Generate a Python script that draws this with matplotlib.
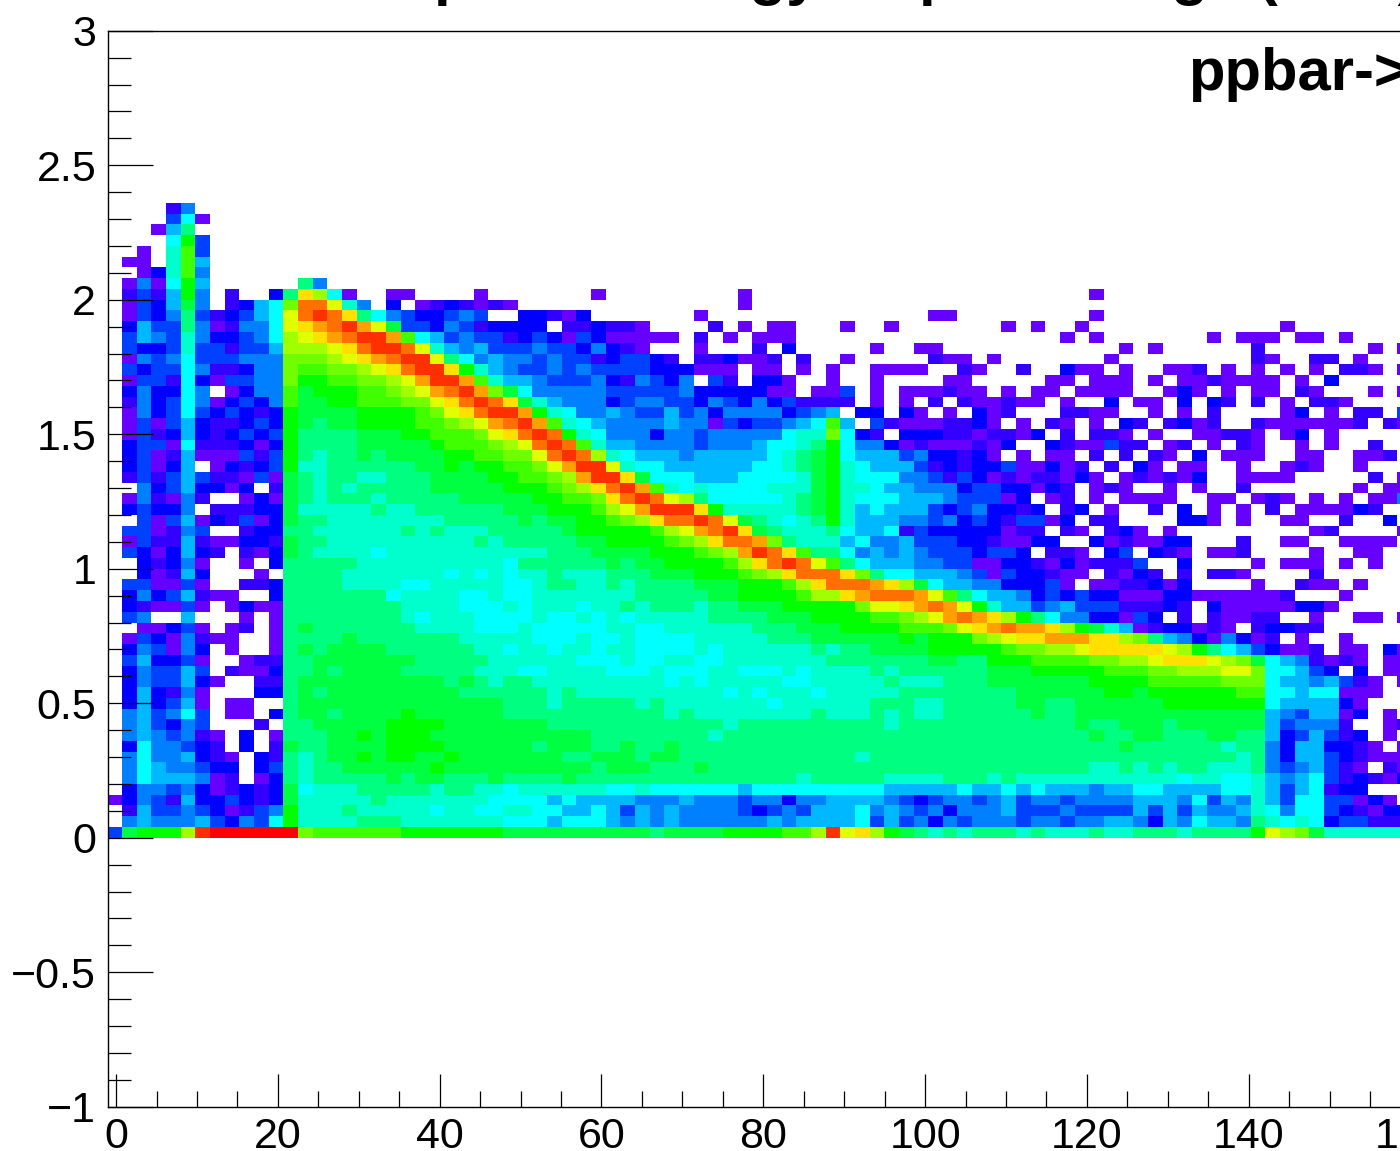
"""Recreate the ppbar 2D histogram (ROOT rainbow palette, cropped canvas)."""

import matplotlib

matplotlib.use("Agg")

import matplotlib.pyplot as plt
import numpy as np
from matplotlib.colors import ListedColormap
from matplotlib.ticker import FixedFormatter, FixedLocator

plt.rcParams["font.family"] = ["Liberation Sans", "DejaVu Sans"]

W, H = 1400, 1151

# bin levels, top row (y = 2.32) first, '.' = empty bin
# columns 0-29
CELLS_LEFT = [
    "....be",
    "....dga",
    "...afi",
    "....gkd",
    "..a.hld",
    ".aa.hlf",
    "..achle",
    ".aeagkf......ie",
    ".bdbfke.b..cipnga..aa....a",
    ".adcfje.bcfgmrrohe.c.abcbaba",
    ".adceidbcdfgorsrpigedccded..cc",
    ".cfddieabeegopqrsqojddcedbcccc",
    ".dfedheccdegnopqrssqlgfdeddbcd",
    ".dccdhddbddfnnnoprssrohfefddde",
    ".aedegdddeeemmmnopqrssoigefeed",
    ".dcddgebbceemllmmnoprsspkhfedd",
    ".addbgcaddeemkkllmmnoqssqlhffe",
    ".ceccge.aceeljkkkllmnoqrsqmjge",
    ".becdgeacdceljjkklllmmoprsrpjh",
    ".aecdgdcdcbckjjjjkkkklmoprssqk",
    ".adadfcbbcdckjijjkkkkllmnoqrsq",
    ".adbcfcbcdcdkiiiijjjkklllmoprs",
    ".cddagbbbcackiiiijjjjjklllmnor",
    ".cdabfaaadbdkihiijijjjjkkllmmo",
    ".cdacf.acbcdkhhiiiiiijjkjkkllm",
    ".bdbdfdbbadajihiihhiiijjjjkkll",
    "..ecdfccac.bjihihiiiiijjjjjkkk",
    ".aebaeb..acajihiiihiiiiijjjjjk",
    ".cdcce.bbbccjhhhhhihhiiiiiijjj",
    "..dadfacbdacjiihhhhhhhhiiiiiji",
    ".ddabed..bcciihhhhhhihihhhiiii",
    ".adbbfbaaccbjiihhhhhhhhhhihiii",
    ".dcacfcb.bacjihhhhghhhhhhhhhhh",
    "..cbcea..a.ciiiiihhhhhhhhhhgii",
    "..cabfc...a.iiiihhhhhhhghghghh",
    ".ddaada..bbciiiihhhhgghhhhhggh",
    ".cecdfbaa..ciiiiiiighhhhgghggh",
    ".cbaada.acaaiiiiiiiihhhhggghgh",
    ".de..f...a.aiiiiiiiihghhhggggh",
    "..aacda.ab.aijiiiiiiihhhhggghg",
    ".adcaebaa..aiiiijiiiiiiihhhhhg",
    ".cedaec.a..aijijjjjiiiiiihhghh",
    ".dfccda..abbiijjjjjjjiiiiihhhh",
    ".ceddfd.baaciijijjjjiiiiihhhgg",
    ".ceddfca..bbijjjjjjjjjjijihiih",
    ".cfcbea...ccijijjjjjjjjjiiiiii",
    ".cfcdfa.aa..ijjjjjjjjjjjjjjiii",
    ".efdegd.aa.cijjijjjjkjjjjjjiii",
    ".efdced...b.iijjjjjkkkkjjjjjjj",
    ".efedeba.c.aiiijjkjkkkjjjjjjjj",
    ".cgeedcb.c.bjiijjjjkkkkjjjjjji",
    ".egeefcba.cbihijjkjkkjjkjjjjjj",
    ".egfeedcc.cdihiijjjjjjkjjjjjjj",
    ".egfffeab.acihiiiiijijjiiijiii",
    ".ceedecabcbcjghhhiiiiihiihhghh",
    "acedbfccdcbcjhhhhhihhhhhhhgggg",
    ".bfddedcabdekhhhihhhhhghhgghhg",
    ".efeeefdcedgkhhhhiiihhhhhhhggg",
    "djkkknsttttttmllllllkkkkkkkjjj",
]

# columns 30-58
CELLS_MID = [
    "", "", "", "", "", "", "", "",
    "...a.........a",
    ".............a",
    "bac.......a...............aa",
    ".bbcbba....b.a.aa...a..a",
    "cadcaaaaa.b.a.aaa",
    "ddcecba...a...b.c.....a..aa",
    "eddbcddcb.bbcaab.b..a.....baa",
    "ededdddcccaaa.aa.a.a..aaaa..b",
    "dddecbedce.db.cca..a..a....aa",
    "eeeedddddecccccaa.aad.a.aaaba",
    "feeecdeeddcedcecdbbbb.a.a.b.b",
    "hgeefeddfdeceeeecdef.cc.ca.a.",
    "lhgfeeeefeeadcddefglf.dbaaabb",
    "rkhgeeeceedeeeeeghhmgcb.cccbb",
    "srlhffeeeedeeefgghikgeecabaaa",
    "rsrnhgfffefffffghijkgfffdeccb",
    "oqssohggffffffgghijkhgfffdbcb",
    "mnqsspjgggfffgggghjkhgggeedbd",
    "lmnprsqlhghgggghhhjkhhgffeeec",
    "kllmprsronigggggh" "ijkhgggfffed",
    "kkklnoqssspkhhhhhijkhfgfffdcd",
    "jjkklmnprrsrojihghikhfffeedec",
    "ijkkkkklnoqrspjihhhigffgbdccc",
    "iijjkkkklmnprrqmihhhfgeefdddc",
    "iiijjjjkkklmnqsrpliigefefeddd",
    "iiiijijjkkkklnprsroligfffeedd",
    "ihhhiiijjjkkklmnprrrpmiggfffe",
    "iihhihiiiijjjkkklnprrrqpnjgff",
    "hhhhhhiiiiijjkkkklnnpqrrrqoli",
    "hhghhihiiihiijjjkkkkkmoopqrqo",
    "gghghghhhhhiiiijjjkkkkllmnoqr",
    "gggghhgghhhhhhiiijjjkkkklllmo",
    "gghgghgggghhhhhiiijjjjjjkjkkk",
    "ghhghhgggghghhhhhhihiijjjjkkk",
    "hhggghgghhgghhhhhhhiiiiiiijji",
    "hhhhggghggghhggghghhhhihiiiii",
    "hhhhhhhhghghhhhhgghhhhhihhhii",
    "hihhhhhhhhhhghghhhghhhhhiiiii",
    "hiiiiihihhhhhhhghhhhhhiiihhii",
    "iiiiiiiihihhhhhhhhihhhihihhii",
    "iiiiiiiiiiiihiiiiiiiiiihiiiii",
    "jjjiiiiiiiihiiiiiiiiiiiiiiiii",
    "jjjiijiijiiiiiiiiiiiiiiiiiiii",
    "jiijjjijjiiiiiiiiiiiihiiiiiii",
    "jjjijjjiiijiiiiiiiiiiiiiiiiii",
    "ijiiiiiiiiiiiiiiihiiiiihhhhii",
    "hhhhgghggggggfgggggggggfffffg",
    "fgffffeeefeeedeeceeffffedcdee",
    "gffgfdfefeeeedcdedfffgefedece",
    "fgggfefefeeeeeefeffffgdfdeced",
    "jjjjjjjijjjjkkkkllnsopnkjihih",
]

# columns 59-88
CELLS_RIGHT = [
    "", "", "", "", "", "", "", "",
    "........a",
    "",
    "........a",
    "..a.a..a.............a",
    "......a.a.......a.aaa.aa.a",
    "..........a.a......b.......a.a",
    ".a.......a.........ba..bb.a",
    "a..b..caa.a..aab.a.a.a.a.bba.a",
    ".....aa.aaa.a.aabaaaa.a.c",
    "a.a.aa.aaaa..aca.a.aa.ba...a.a",
    "aabaa.a..c.aa.c.cb.b.a.bba",
    "cab...bbaa..a.a.b....ac.a.bb.d",
    "ca.a.ba.a.cb.bcab..baaaaaab.ba",
    "abbac.b.bba.a..aabba.ac.a",
    "bac..cbaadbb.ab.a.ba..a.a..b",
    "ca.a.aa.b.b.ba.c.aaa..aa..aab",
    "ccdaacab.b.ca.aa..a..aba..a",
    "cababbaca.ababac..aaaa.....b.a",
    "ddccacb.aba..a.a..b.......a.aa",
    "ddac.ab.a.aaaa..aa.aba.a.a.aae",
    "eccbc.bc.a..b.c.a.a.b.aaaacb",
    "dcbddac.bb....cca.a..aa..b..c",
    "ccabb.ba.bca.a.........ab....a",
    "cbaacc..cabaacc...b..aa..aaaa",
    "cddc.bba.cd.cba.aab....a..aa",
    "aaccbacabbbd..c....a.aaa.a.a",
    "dadccbaa.bacb.b.bba....b",
    "eecccda.aabbcac....a..baa.a",
    "gffecdcdccaaaccaaaaaab...a",
    "khffdefdddbbbcb.caaaaacca",
    "qpnkigeeccadc.b.baabb..a..aa.a",
    "pqrqqpnkjhfabccaba.bccbb",
    "mnoppqqqppnmifecaecab.a..a",
    "kklmmnnopppppo" "nkigfdcaab.aa.ca",
    "ikkkllllmmnnopppon" "mjgfebaba.aa",
    "ijjjkkkkklllmmnnnoomggfdc.c.aa",
    "ijjjjjjjkkkklllllmmmgffefdba.a",
    "iiijjjjjjkkjkkkkkkllggfggaaa",
    "iiijjiijjjjjjkkkkkkkgffffca",
    "iiiijiijjjjjjjjjjjjjfedffac.a",
    "iiiiiiijiijjjijjjjjjfdeeeb..ab",
    "iiiiiiiijiijjiiijjiifcdfdbc.a",
    "iiiiiiiiiijiiiiiihiiecffccba.a",
    "iiiiiiiiiiiiiiiiiihiecffdcbaaa",
    "iiiiiiiihhihihiihhhiedefdba.ba",
    "ihihhhhhhhhhhhghhgghfefgdbcbac",
    "ffgfgfffeffggffffgghfdfgbcc",
    "defdeedeeeefffegdfehfdggddaca",
    "eefdddeddddfdfdfeefhgeggdcbacc",
    "eeedeedeeffecfegffeihghgcddbbb",
    "iiihihhhihhiiihiiiikonmjhhhhhh",
]

LEVELS = "abcdefghijklmnopqrst"
PALETTE = [
    "#6600ff", "#3300ff", "#0000ff", "#0040ff", "#0080ff", "#00b8ff", "#00ffff",
    "#00ffcc", "#00ff80", "#00ff40", "#00ff00", "#40ff00", "#70ff00", "#a0ff00",
    "#e0ff00", "#ffe000", "#ffa000", "#ff7000", "#ff3000", "#ff0000",
]

X_MAJOR = [0, 20, 40, 60, 80, 100, 120, 140, 160]
X_LABELS = ["0", "20", "40", "60", "80", "100", "120", "140", "160"]
Y_MAJOR = [-1, -0.5, 0, 0.5, 1, 1.5, 2, 2.5, 3]
Y_LABELS = ["\u22121", "\u22120.5", "0", "0.5", "1", "1.5", "2", "2.5", "3"]

# only the descenders of the title are on the canvas, the wording is a guess
TITLE = "Lead pT vs. energy/all pT in range (GeV)"
LABEL = "ppbar->ttbar"


def build_grid() -> np.ndarray:
    grid = np.full((100, 100), np.nan)
    rows = zip(CELLS_LEFT, CELLS_MID, CELLS_RIGHT, strict=True)
    for i, (left, mid, right) in enumerate(rows):
        row = left.ljust(30, ".") + mid.ljust(29, ".") + right.ljust(30, ".")
        for j, ch in enumerate(row):
            if ch != ".":
                # row index 0 of the lists is the bin at y = 2.32
                grid[25 + 58 - i, j] = LEVELS.index(ch)
    return grid


def main() -> None:
    fig = plt.figure(figsize=(W / 100, H / 100), dpi=100, facecolor="white")
    ax = fig.add_axes([108 / W, (H - 1106.7) / H, 1456.2 / W, 1076 / H])

    # the cells run a little wider than the tick scale in the original
    x_edges = np.linspace(-1.08, 180.1, 101)
    y_edges = np.linspace(-1, 3, 101)
    cmap = ListedColormap(PALETTE)
    cmap.set_bad((1, 1, 1, 0))
    ax.pcolormesh(
        x_edges, y_edges, np.ma.masked_invalid(build_grid()),
        cmap=cmap, vmin=-0.5, vmax=len(PALETTE) - 0.5, antialiased=False, linewidth=0,
    )
    ax.set_xlim(-1, 179)
    ax.set_ylim(-1, 3)

    ax.xaxis.set_major_locator(FixedLocator(X_MAJOR))
    ax.xaxis.set_major_formatter(FixedFormatter(X_LABELS))
    ax.xaxis.set_minor_locator(FixedLocator(np.arange(5, 180, 5)))
    ax.yaxis.set_major_locator(FixedLocator(Y_MAJOR))
    ax.yaxis.set_major_formatter(FixedFormatter(Y_LABELS))
    ax.yaxis.set_minor_locator(FixedLocator(np.arange(-0.9, 3.0, 0.1)))
    ax.tick_params(axis="x", which="major", direction="in", length=23.8, width=0.9, pad=7.5, labelsize=31)
    ax.tick_params(axis="x", which="minor", direction="in", length=11.5, width=0.9)
    ax.tick_params(axis="y", which="major", direction="in", length=32.4, width=0.9, pad=8.5, labelsize=31)
    ax.tick_params(axis="y", which="minor", direction="in", length=16.5, width=0.9)
    ax.set_axisbelow(False)
    for spine in ax.spines.values():
        spine.set_linewidth(1.0)

    # both texts run off the canvas, as in the cropped original
    fig.text(278 / W, (H + 6) / H, TITLE, fontsize=43, fontweight="bold", ha="left", va="baseline")
    fig.text(1188 / W, (H - 90) / H, LABEL, fontsize=43, fontweight="bold", ha="left", va="baseline")

    fig.savefig("out.png", dpi=100)
    plt.close(fig)


if __name__ == "__main__":
    main()
